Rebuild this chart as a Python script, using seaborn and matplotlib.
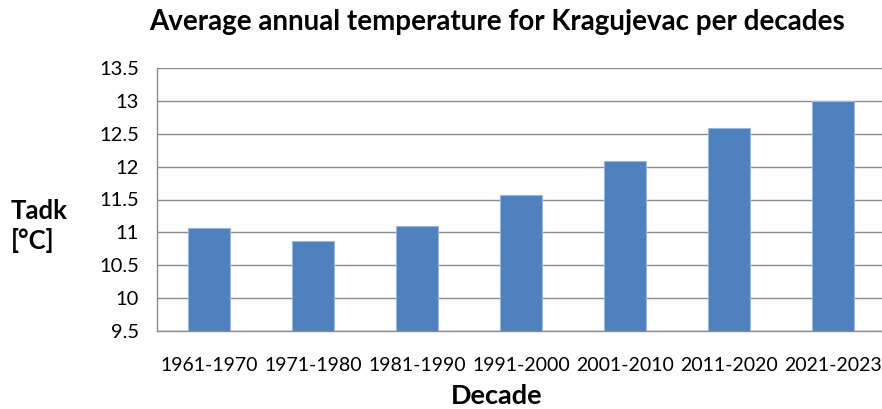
import numpy as np
import pandas as pd
import seaborn as sns
import matplotlib.pyplot as plt
from matplotlib.ticker import FixedLocator

# Data
decades = ["1961-1970", "1971-1980", "1981-1990", "1991-2000",
           "2001-2010", "2011-2020", "2021-2023"]
tadk = [11.07, 10.87, 11.10, 11.57, 12.09, 12.59, 13.00]
y_ticks = [9.5, 10, 10.5, 11, 11.5, 12, 12.5, 13, 13.5]
y_tick_labels = ["9.5", "10", "10.5", "11", "11.5", "12", "12.5", "13", "13.5"]

df = pd.DataFrame({"Decade": decades, "Tadk": tadk})

sns.set_style("white")
plt.rcParams['font.family'] = ['Lato', 'DejaVu Sans']
plt.rcParams['text.color'] = 'black'

fig = plt.figure(figsize=(8.82, 4.09), dpi=100)
ax = fig.add_axes([157 / 882, 1 - 331 / 409, (885 - 157) / 882, (331 - 68) / 409])

sns.barplot(data=df, x="Decade", y="Tadk", color="#4F81BD", width=0.4,
            edgecolor="#9DB6DA", linewidth=0.8, saturation=1, ax=ax, zorder=3)

ax.set_ylim(9.5, 13.5)
ax.set_xlim(-0.5, len(decades) - 0.5)
ax.set_yticks(y_ticks)
ax.set_yticklabels(y_tick_labels)
ax.yaxis.grid(True, color="#8c8c8c", linewidth=1)
ax.set_axisbelow(True)

# Excel-style ticks between categories
ax.xaxis.set_minor_locator(FixedLocator(np.arange(-0.5, len(decades), 1)))
ax.tick_params(axis="x", which="major", length=0, pad=19, labelsize=14, labelcolor="black")
ax.tick_params(axis="x", which="minor", length=6, width=1, color="#8c8c8c", direction="out")
ax.tick_params(axis="y", which="major", length=6, width=1, color="#8c8c8c",
               direction="out", labelsize=14.5, pad=7, labelcolor="black")

for side in ["top", "right"]:
    ax.spines[side].set_visible(False)
for side in ["left", "bottom"]:
    ax.spines[side].set_color("#8c8c8c")
    ax.spines[side].set_linewidth(1)

ax.set_xlabel("")
ax.set_ylabel("")
fig.text(497 / 882, 1 - 396 / 409, "Decade", fontsize=19.5, fontweight="bold",
         ha="center", va="center")
fig.text(11 / 882, 1 - 226 / 409, "Tadk\n[\u00b0C]", fontsize=18.5, fontweight="bold",
         ha="left", va="center", linespacing=1.25)
fig.text(497 / 882, 1 - 22 / 409, "Average annual temperature for Kragujevac per decades",
         fontsize=20, fontweight="bold", ha="center", va="center")

fig.savefig("out.png", dpi=100)
